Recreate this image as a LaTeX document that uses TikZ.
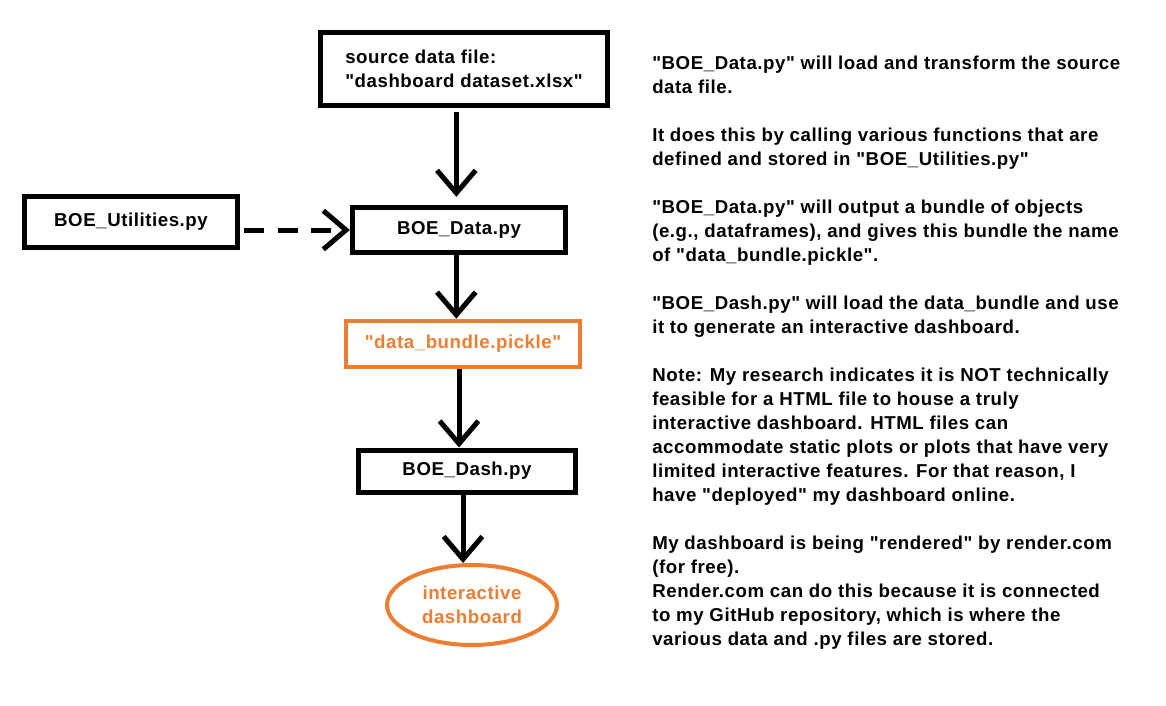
\documentclass[tikz,border=0pt]{standalone}
\usepackage{fontspec}
\setmainfont{Liberation Sans}[Ligatures=TeXOff,LetterSpace=3]
\usetikzlibrary{arrows.meta,shapes.geometric}
\definecolor{boeorange}{RGB}{237,125,49}
\begin{document}
\begin{tikzpicture}[x=0.75pt,y=-0.75pt,
   font=\bfseries\fontsize{14}{18}\selectfont,
   filebox/.style={draw,line width=3.75pt,inner sep=0pt},
   outbox/.style={draw=boeorange,text=boeorange,line width=3pt,inner sep=0pt},
   arr/.style={line width=3.75pt,-{Straight Barb[length=17pt,width=29pt,line width=3.75pt]}}]
   \useasboundingbox (0,0) rectangle (1166,706);

   \node[filebox,minimum width=215pt,minimum height=55pt,align=left] (src) at (464,69)
   {source data file:\\"dashboard dataset.xlsx"};
   \node[filebox,minimum width=160pt,minimum height=34pt] (data) at (459,230) {BOE\_Data.py};
   \node[filebox,minimum width=160pt,minimum height=38pt] (util) at (131,222) {BOE\_Utilities.py};
   \node[outbox,minimum width=175.5pt,minimum height=35pt] (bundle) at (463,344) {"data\_bundle.pickle"};
   \node[filebox,minimum width=163pt,minimum height=31.5pt] (dash) at (467,471) {BOE\_Dash.py};
   \node[outbox,ellipse,minimum width=127.5pt,minimum height=60pt,align=center] (dboard) at (472,605)
   {interactive\\dashboard};

   \draw[arr,shorten <=3pt,shorten >=6pt] ([xshift=-2pt]data.north |- src.south) -- ([xshift=-2pt]data.north);
   \draw[arr,dash pattern=on 15pt off 10pt,shorten <=3pt] (util.east |- data.west) -- (data.west);
   \draw[arr] ([xshift=-2pt]data.south) -- ([xshift=-2pt]data.south |- bundle.north);
   \draw[arr] ([xshift=-3pt]bundle.south) -- ([xshift=-3pt]bundle.south |- dash.north);
   \draw[arr] ([xshift=-3pt]dash.south) -- ([xshift=-3pt]dash.south |- dboard.north);

   \node[anchor=north west,inner sep=0pt,align=left] (notes) at (652,56)
   {"BOE\_Data.py" will load and transform the source\\
    data file.\\[18pt]
    It does this by calling various functions that are\\
    defined and stored in "BOE\_Utilities.py"\\[18pt]
    "BOE\_Data.py" will output a bundle of objects\\
    (e.g., dataframes), and gives this bundle the name\\
    of "data\_bundle.pickle".\\[18pt]
    "BOE\_Dash.py" will load the data\_bundle and use\\
    it to generate an interactive dashboard.\\[18pt]
    Note: My research indicates it is NOT technically\\
    feasible for a HTML file to house a truly\\
    interactive dashboard. HTML files can\\
    accommodate static plots or plots that have very\\
    limited interactive features. For that reason, I\\
    have "deployed" my dashboard online.\\[18pt]
    My dashboard is being "rendered" by render.com\\
    (for free).\\
    Render.com can do this because it is connected\\
    to my GitHub repository, which is where the\\
    various data and .py files are stored.};
\end{tikzpicture}
\end{document}
